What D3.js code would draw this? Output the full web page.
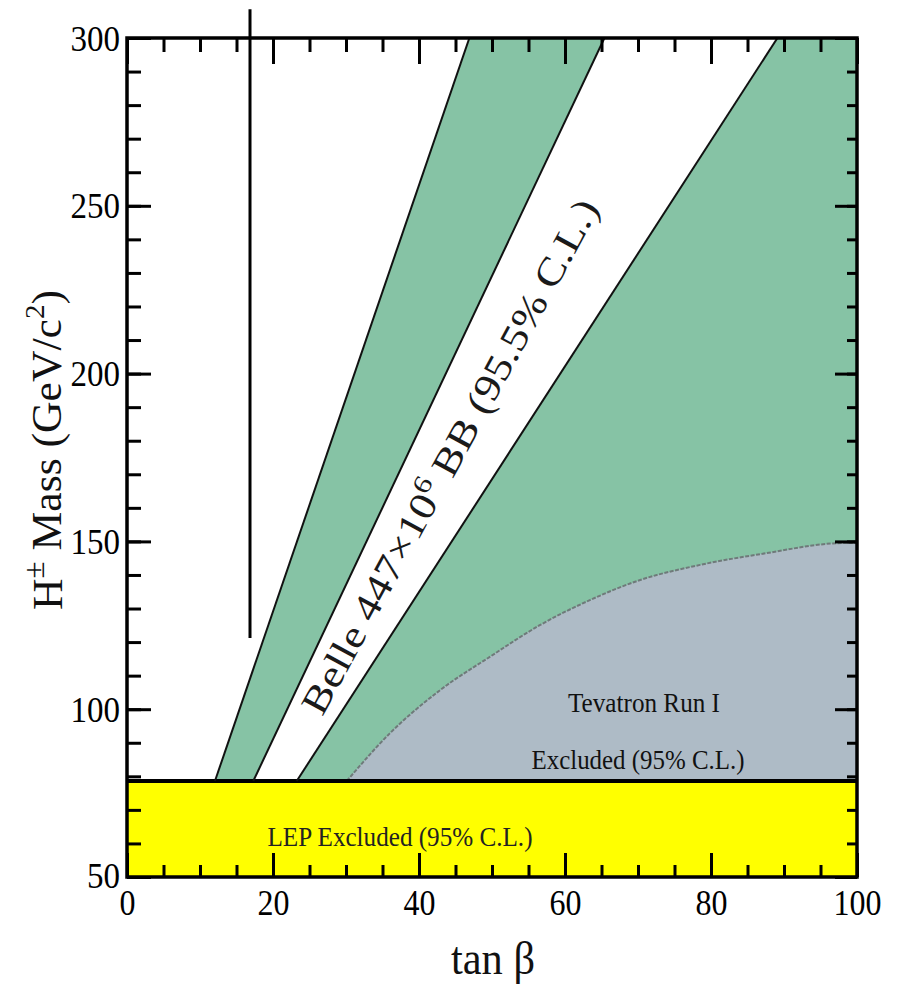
<!DOCTYPE html>
<html><head><meta charset="utf-8">
<script src="https://cdn.jsdelivr.net/npm/d3@7"></script>
<style>body{margin:0;background:#fff}svg{display:block}text{font-family:"Liberation Serif","Times New Roman",serif}</style>
</head><body>
<script>
// ---- data ----
const xDomain = [0, 100];
const yDomain = [50, 300];
const xMajorTicks = [0, 20, 40, 60, 80, 100];
const yMajorTicks = [50, 100, 150, 200, 250, 300];
const xMinorTicks = d3.range(0, 101, 5);
const yMinorTicks = d3.range(50, 301, 10);
// Belle boundary lines: [tanBeta, mass] at bottom (LEP limit) and top
const lepLimit = 78.6;
const lineA = [[12.05, 78.6], [46.9, 300]];
const lineB = [[17.3, 78.6], [65.4, 300]];
const lineC = [[23.25, 78.6], [89.1, 300]];
// Tevatron Run I exclusion boundary
const tevTanB = [30.1, 36.0, 42.9, 49.7, 56.6, 63.4, 70.3, 78.5, 87.6, 96.7, 100];
const tevMass = [78.6, 92.8, 105.7, 115.6, 125.1, 132.5, 138.5, 143.0, 146.5, 149.4, 149.6];
// vertical reference line
const vLineTanB = 16.85;
const vLineMass = [121.2, 308.6];

const W = 897, H = 987;
const m = {l: 127, r: 857, t: 38, b: 877};
const svg = d3.select("body").append("svg").attr("width", W).attr("height", H);
const x = d3.scaleLinear().domain(xDomain).range([m.l, m.r]);
const y = d3.scaleLinear().domain(yDomain).range([m.b, m.t]);

const green = "#86c3a5", gray = "#aebbc6", yellow = "#ffff00";
const P = pts => "M" + pts.map(p => x(p[0]) + "," + y(p[1])).join("L") + "Z";
const tev = tevTanB.map((t, i) => [t, tevMass[i]]);
const tevLine = d3.line().x(d => x(d[0])).y(d => y(d[1])).curve(d3.curveMonotoneX);
const tevPath = tevLine(tev);

const clip = svg.append("clipPath").attr("id", "c").append("rect")
  .attr("x", m.l).attr("y", m.t).attr("width", m.r - m.l).attr("height", m.b - m.t);
const g = svg.append("g").attr("clip-path", "url(#c)");

// green band 1
g.append("path").attr("d", P([lineA[0], lineA[1], lineB[1], lineB[0]])).attr("fill", green);
// green band 2 (right of line C, down to LEP)
g.append("path").attr("d", P([lineC[0], lineC[1], [100, 300], [100, lepLimit]])).attr("fill", green);
// Tevatron region
g.append("path").attr("d", tevPath + `L${x(100)},${y(50)}L${x(tevTanB[0])},${y(50)}Z`).attr("fill", gray);
g.append("path").attr("d", tevPath)
  .attr("fill", "none").attr("stroke", "#6f7a7a").attr("stroke-width", 2).attr("stroke-dasharray", "4,1.5");
// LEP region
g.append("rect").attr("x", x(0)).attr("y", y(lepLimit)).attr("width", x(100) - x(0)).attr("height", y(50) - y(lepLimit)).attr("fill", yellow);
g.append("line").attr("x1", x(0)).attr("x2", x(100)).attr("y1", y(lepLimit)).attr("y2", y(lepLimit))
  .attr("stroke", "#000").attr("stroke-width", 4);
// Belle lines
[lineA, lineB, lineC].forEach(L => {
  g.append("line").attr("x1", x(L[0][0])).attr("y1", y(L[0][1])).attr("x2", x(L[1][0])).attr("y2", y(L[1][1]))
    .attr("stroke", "#111").attr("stroke-width", 2);
});

// vertical line (extends above frame)
svg.append("line").attr("x1", x(vLineTanB)).attr("x2", x(vLineTanB)).attr("y1", y(vLineMass[0])).attr("y2", y(vLineMass[1]))
  .attr("stroke", "#000").attr("stroke-width", 3);

// texts
const bt = svg.append("text").attr("transform", "translate(449,456) rotate(-61.5)")
  .attr("text-anchor", "middle").attr("dy", "0.35em").attr("font-size", 38).attr("fill", "#1a1a1a")
  .attr("textLength", 580).attr("lengthAdjust", "spacingAndGlyphs");
bt.append("tspan").text("Belle 447×10");
bt.append("tspan").attr("font-size", 26).attr("dy", "-0.55em").text("6");
bt.append("tspan").attr("dy", "0.4em").text(" BB (95.5% C.L.)");

svg.append("text").attr("x", 644).attr("y", 712).attr("text-anchor", "middle").attr("font-size", 28)
  .attr("textLength", 152).attr("lengthAdjust", "spacingAndGlyphs").attr("fill", "#111").text("Tevatron Run I");
svg.append("text").attr("x", 638).attr("y", 769).attr("text-anchor", "middle").attr("font-size", 28)
  .attr("textLength", 213).attr("lengthAdjust", "spacingAndGlyphs").attr("fill", "#111").text("Excluded (95% C.L.)");
svg.append("text").attr("x", 400).attr("y", 846).attr("text-anchor", "middle").attr("font-size", 28)
  .attr("textLength", 265).attr("lengthAdjust", "spacingAndGlyphs").attr("fill", "#222").text("LEP Excluded (95% C.L.)");

// frame
svg.append("rect").attr("x", m.l).attr("y", m.t).attr("width", m.r - m.l).attr("height", m.b - m.t)
  .attr("fill", "none").attr("stroke", "#000").attr("stroke-width", 3.5);

// axes
function styleAxis(sel) {
  sel.select(".domain").remove();
  sel.selectAll(".tick line").attr("stroke", "#000").attr("stroke-width", 3);
}
const bottomMajor = svg.append("g").attr("transform", `translate(0,${m.b})`)
  .call(d3.axisBottom(x).tickValues(xMajorTicks).tickSize(-24).tickFormat(d3.format("d")));
styleAxis(bottomMajor);
bottomMajor.selectAll(".tick text").attr("y", 38).attr("dy", 0).attr("font-size", 36)
  .attr("font-family", "Liberation Serif").attr("fill", "#000")
  .attr("textLength", d => String(d).length * 16).attr("lengthAdjust", "spacingAndGlyphs");
styleAxis(svg.append("g").attr("transform", `translate(0,${m.b})`)
  .call(d3.axisBottom(x).tickValues(xMinorTicks).tickSize(-12).tickFormat("")));
styleAxis(svg.append("g").attr("transform", `translate(0,${m.t})`)
  .call(d3.axisTop(x).tickValues(xMajorTicks).tickSize(-26).tickFormat("")));
styleAxis(svg.append("g").attr("transform", `translate(0,${m.t})`)
  .call(d3.axisTop(x).tickValues(xMinorTicks).tickSize(-14).tickFormat("")));

const leftMajor = svg.append("g").attr("transform", `translate(${m.l},0)`)
  .call(d3.axisLeft(y).tickValues(yMajorTicks).tickSize(-24).tickFormat(d3.format("d")));
styleAxis(leftMajor);
leftMajor.selectAll(".tick text").attr("x", -7).attr("dy", 0).attr("y", 12).attr("font-size", 36)
  .attr("font-family", "Liberation Serif").attr("fill", "#000")
  .attr("textLength", d => String(d).length * 16.5).attr("lengthAdjust", "spacingAndGlyphs");
leftMajor.selectAll(".tick").filter(d => d === 50).select("text").attr("y", 10);
styleAxis(svg.append("g").attr("transform", `translate(${m.l},0)`)
  .call(d3.axisLeft(y).tickValues(yMinorTicks).tickSize(-14).tickFormat("")));
styleAxis(svg.append("g").attr("transform", `translate(${m.r},0)`)
  .call(d3.axisRight(y).tickValues(yMajorTicks).tickSize(-22).tickFormat("")));
styleAxis(svg.append("g").attr("transform", `translate(${m.r},0)`)
  .call(d3.axisRight(y).tickValues(yMinorTicks).tickSize(-10).tickFormat("")));

// axis titles
svg.append("text").attr("x", 493).attr("y", 974).attr("text-anchor", "middle").attr("font-size", 46)
  .attr("textLength", 84).attr("lengthAdjust", "spacingAndGlyphs").attr("fill", "#111").text("tan β");
const yl = svg.append("text").attr("transform", "translate(62,450) rotate(-90)").attr("text-anchor", "middle")
  .attr("font-size", 42).attr("fill", "#111").attr("textLength", 320).attr("lengthAdjust", "spacingAndGlyphs");
yl.append("tspan").text("H");
yl.append("tspan").attr("font-size", 30).attr("dy", "-0.6em").text("±");
yl.append("tspan").attr("dy", "0.4em").text(" Mass (GeV/c");
yl.append("tspan").attr("font-size", 28).attr("dy", "-0.6em").text("2");
yl.append("tspan").attr("dy", "0.4em").text(")");
</script>
</body></html>
